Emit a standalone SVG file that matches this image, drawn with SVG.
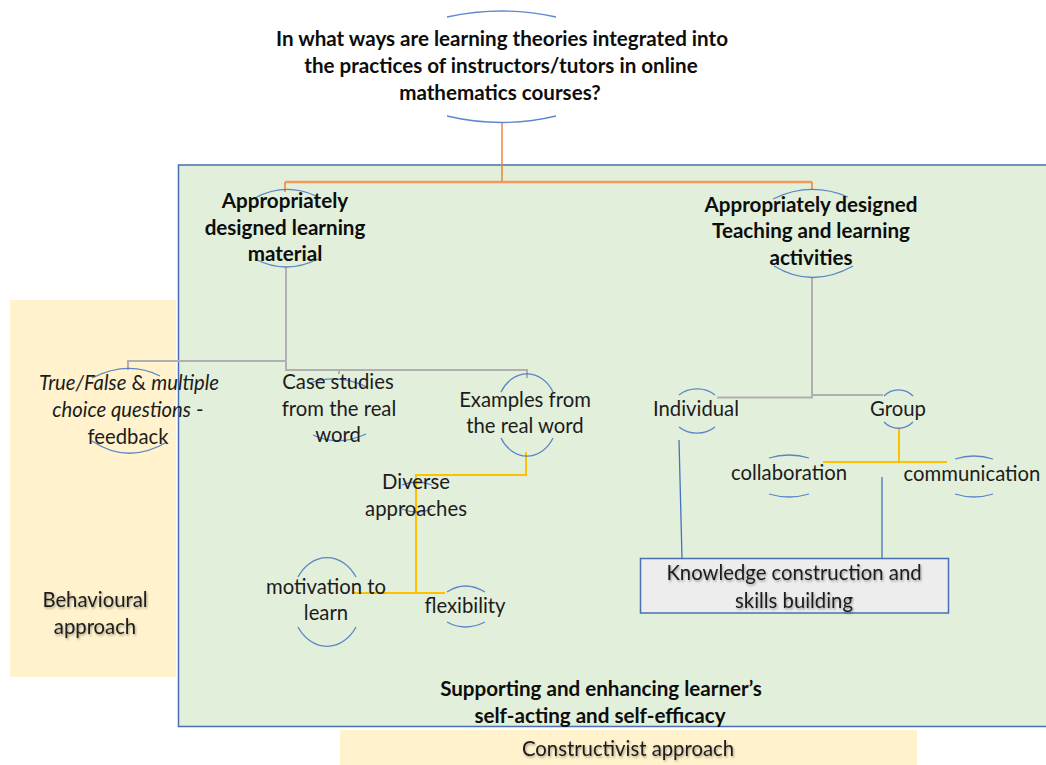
<svg xmlns="http://www.w3.org/2000/svg" width="1046" height="765" viewBox="0 0 1046 765">
  <defs>
    <filter id="softShadow" x="-10%" y="-30%" width="120%" height="160%">
      <feDropShadow dx="1" dy="1.5" stdDeviation="1" flood-color="#000" flood-opacity="0.35"/>
    </filter>
  </defs>
  <style>
    text { font-family: Lato, "Liberation Sans", sans-serif; fill: #1c1c1c; text-anchor: middle; }
    .b { font-weight: bold; fill: #0d0d0d; font-size: 20.6px; }
    .r { font-size: 20.3px; }
    .arc { fill: none; stroke: #4472c4; stroke-width: 1.3; stroke-opacity: 0.85; }
    .orange { fill: none; stroke: #ed7d31; stroke-width: 1.4; }
    .orangeH { fill: none; stroke: #f19a5c; stroke-width: 2.6; }
    .gray { fill: none; stroke: #b0b0b0; stroke-width: 2; }
    .yellow { fill: none; stroke: #ffc000; stroke-width: 2; }
    .blue { fill: none; stroke: #4472c4; stroke-width: 1.3; }
    .sh { filter: url(#softShadow); }
  </style>

  <!-- background panels -->
  <g id="panels">
    <rect x="10" y="300" width="166" height="377" fill="#fff2cc"/>
    <rect x="178.5" y="165" width="880" height="561.5" fill="#e2efda" stroke="#4a6fb0" stroke-width="1.5"/>
    <rect x="340" y="730" width="577" height="35" fill="#fff2cc"/>
  </g>

  <!-- connectors -->
  <g id="connectors">
    <path class="orange" d="M502,123 V182"/>
    <path class="orangeH" d="M285,182 H812"/>
    <path class="orange" d="M285,182 V192 M812,182 V190"/>
    <path class="gray" d="M286,267 V361 H128 V370 M286,361 V370 H527 V378 M339,370 V374"/>
    <path class="gray" d="M717,397.5 H812 V278 M812,395 H883"/>
    <path class="yellow" d="M526,452 V475 H416 V593 M353,593 H445"/>
    <path class="yellow" d="M899,428 V462 M823,462 H947"/>
    <path class="blue" d="M679,440 L682,558 M882,477 V558"/>
  </g>

  <!-- research question -->
  <g id="question">
    <path class="arc" d="M447,17 Q502,5 556,17"/>
    <path class="arc" d="M447,116 Q502,129 556,116"/>
    <text class="b" x="502" y="46">In what ways are learning theories integrated into</text>
    <text class="b" x="501" y="73">the practices of instructors/tutors in online</text>
    <text class="b" x="500" y="100">mathematics courses?</text>
  </g>

  <g id="learning-material">
    <path class="arc" d="M255,198 Q285,182 316,196"/>
    <path class="arc" d="M255,259 Q286,275 318,259"/>
    <text class="b" x="285" y="208">Appropriately</text>
    <text class="b" x="285" y="235">designed learning</text>
    <text class="b" x="285" y="261">material</text>
  </g>

  <g id="teaching-activities">
    <path class="arc" d="M773,199 Q810,181 848,197"/>
    <path class="arc" d="M774,266 Q812,289 853,266"/>
    <text class="b" x="811" y="212">Appropriately designed</text>
    <text class="b" x="811" y="238">Teaching and learning</text>
    <text class="b" x="811" y="265">activities</text>
  </g>

  <g id="true-false">
    <path class="arc" d="M92,378 Q128,360 160,376"/>
    <path class="arc" d="M92,441 Q128,465 167,442"/>
    <text class="r" x="129" y="390"><tspan font-style="italic">True/False</tspan> &amp; <tspan font-style="italic">multiple</tspan></text>
    <text class="r" x="128" y="417"><tspan font-style="italic">choice questions</tspan> -</text>
    <text class="r" x="128" y="444">feedback</text>
  </g>

  <g id="case-studies">
    <path class="arc" d="M310,383 Q338,373 367,387"/>
    <path class="arc" d="M313,435 Q338,447 366,434"/>
    <text class="r" x="338" y="389">Case studies</text>
    <text class="r" x="339" y="416">from the real</text>
    <text class="r" x="338" y="442">word</text>
  </g>

  <g id="examples">
    <path class="arc" d="M501,392 A30,36 0 0 1 553,392"/>
    <path class="arc" d="M501,438 A30,36 0 0 0 553,438"/>
    <text class="r" x="525" y="407">Examples from</text>
    <text class="r" x="525" y="433">the real word</text>
  </g>

  <g id="diverse-approaches">
    <path class="arc" d="M402,485 Q417,479 432,485"/>
    <path class="arc" d="M402,509 Q417,515 432,509"/>
    <text class="r" x="416" y="489">Diverse</text>
    <text class="r" x="416" y="516">approaches</text>
  </g>

  <g id="motivation">
    <path class="arc" d="M298,577 A35,44 0 0 1 356,577"/>
    <path class="arc" d="M298,627 A35,44 0 0 0 356,627"/>
    <text class="r" x="326" y="594">motivation to</text>
    <text class="r" x="326" y="620">learn</text>
  </g>

  <g id="flexibility">
    <path class="arc" d="M447,592 Q465,580 485,592"/>
    <path class="arc" d="M447,622 Q465,632 485,622"/>
    <text class="r" x="465" y="613">flexibility</text>
  </g>

  <g id="individual">
    <path class="arc" d="M679,395 A26,22 0 0 1 715,395"/>
    <path class="arc" d="M679,427 A26,22 0 0 0 715,427"/>
    <text class="r" x="696" y="416">Individual</text>
  </g>

  <g id="group">
    <path class="arc" d="M884,396 A20,20 0 0 1 913,396"/>
    <path class="arc" d="M884,422 A20,20 0 0 0 913,422"/>
    <text class="r" x="898" y="416">Group</text>
  </g>

  <g id="collaboration">
    <path class="arc" d="M769,458 Q789,452 809,458"/>
    <path class="arc" d="M769,494 Q789,500 809,494"/>
    <text class="r" x="789" y="480">collaboration</text>
  </g>

  <g id="communication">
    <path class="arc" d="M955,459 Q974,453 993,459"/>
    <path class="arc" d="M955,494 Q974,500 993,494"/>
    <text class="r" x="972" y="481">communication</text>
  </g>

  <g id="knowledge-construction">
    <rect x="640.5" y="558.5" width="308" height="54.5" fill="#ededed" stroke="#4a6fb0" stroke-width="1.5"/>
    <text class="r sh" x="794" y="580">Knowledge construction and</text>
    <text class="r sh" x="794" y="608">skills building</text>
  </g>

  <g id="behavioural">
    <text class="r sh" x="95" y="607">Behavioural</text>
    <text class="r sh" x="95" y="634">approach</text>
  </g>

  <g id="self-efficacy">
    <text class="b" x="601" y="696">Supporting and enhancing learner’s</text>
    <text class="b" x="600" y="723">self-acting and self-efficacy</text>
  </g>

  <g id="constructivist">
    <text class="r sh" x="628" y="756">Constructivist approach</text>
  </g>
</svg>
